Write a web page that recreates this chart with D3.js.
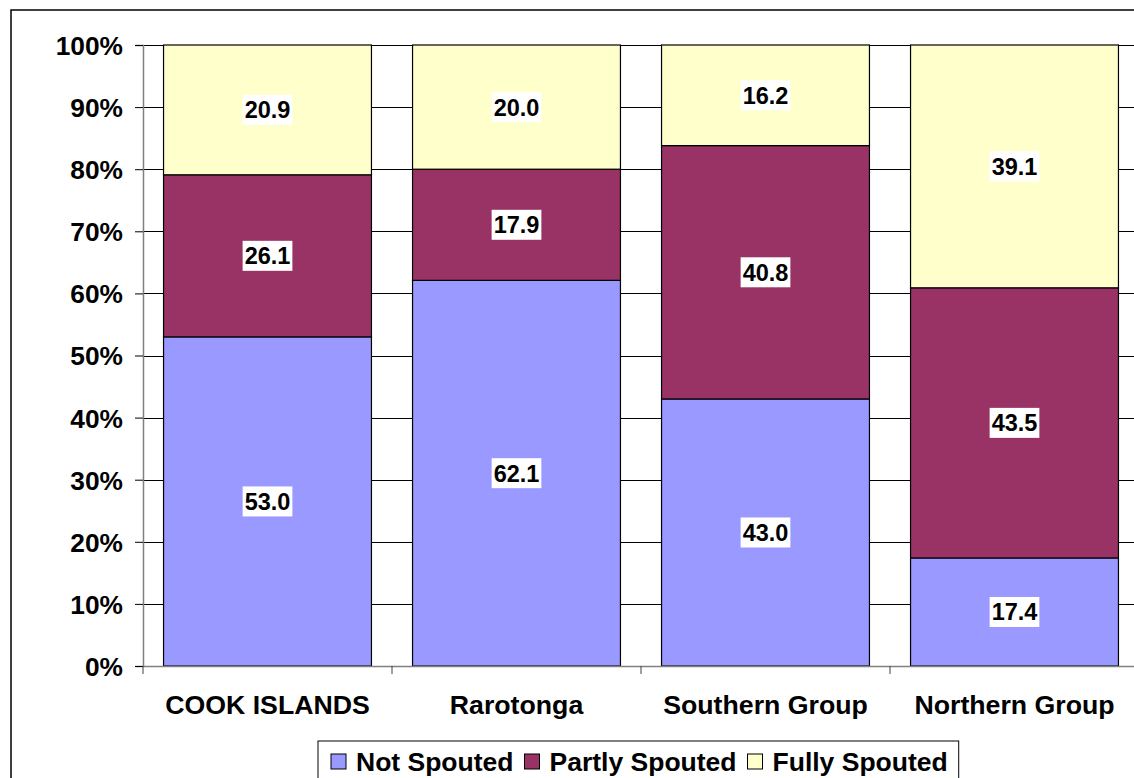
<!DOCTYPE html>
<html>
<head>
<meta charset="utf-8">
<script src="https://d3js.org/d3.v7.min.js"></script>
<style>
  body { margin: 0; background: #fff; }
  svg text { font-family: "Liberation Sans", Arial, sans-serif; font-weight: bold; fill: #000; }
</style>
</head>
<body>
<svg id="chart" width="1134" height="778"></svg>
<script>
  // chart data
  const categories = ["COOK ISLANDS", "Rarotonga", "Southern Group", "Northern Group"];
  const seriesNames = ["Not Spouted", "Partly Spouted", "Fully Spouted"];
  const notSpouted = [53.0, 62.1, 43.0, 17.4];
  const partlySpouted = [26.1, 17.9, 40.8, 43.5];
  const fullySpouted = [20.9, 20.0, 16.2, 39.1];
  const yTicks = [0, 10, 20, 30, 40, 50, 60, 70, 80, 90, 100];

  const colors = ["#9999ff", "#993366", "#ffffcc"];

  const rows = categories.map((c, i) => ({
    categ: c,
    "Not Spouted": notSpouted[i],
    "Partly Spouted": partlySpouted[i],
    "Fully Spouted": fullySpouted[i]
  }));

  const svg = d3.select("#chart");

  // outer chart border (runs off the right/bottom of the picture)
  svg.append("rect")
    .attr("x", 11).attr("y", 10)
    .attr("width", 1140).attr("height", 790)
    .attr("fill", "none")
    .attr("stroke", "#000")
    .attr("stroke-width", 1.5);

  const plotLeft = 143, plotTop = 45, plotBottom = 666;
  const step = 249;

  const x = d3.scaleBand()
    .domain(categories)
    .range([plotLeft, plotLeft + step * categories.length])
    .paddingInner(0.165)
    .paddingOuter(0.0825);

  const y = d3.scaleLinear().domain([0, 100]).range([plotBottom, plotTop]);

  // gridlines
  svg.append("g")
    .selectAll("line")
    .data(yTicks.filter(d => d > 0))
    .enter().append("line")
    .attr("x1", plotLeft).attr("x2", 1134)
    .attr("y1", d => Math.round(y(d)) + 0.5)
    .attr("y2", d => Math.round(y(d)) + 0.5)
    .attr("stroke", "#000");

  // bars
  const stack = d3.stack().keys(seriesNames);
  const layers = stack(rows);

  const layerG = svg.append("g")
    .selectAll("g")
    .data(layers)
    .enter().append("g")
    .attr("fill", (d, i) => colors[i]);

  layerG.selectAll("rect")
    .data(d => d)
    .enter().append("rect")
    .attr("x", d => x(d.data.categ))
    .attr("y", d => y(d[1]))
    .attr("width", x.bandwidth())
    .attr("height", d => y(d[0]) - y(d[1]))
    .attr("stroke", "#000")
    .attr("stroke-width", 1.2);

  // data labels with white boxes
  layers.forEach((layer) => {
    layer.forEach(d => {
      const v = d[1] - d[0];
      const cx = x(d.data.categ) + x.bandwidth() / 2;
      const cy = y((d[0] + d[1]) / 2);
      const t = svg.append("text")
        .attr("x", cx)
        .attr("y", cy)
        .attr("dy", "0.36em")
        .attr("text-anchor", "middle")
        .style("font-size", "23.5px")
        .text(v.toFixed(1));
      const w = t.node().getComputedTextLength();
      svg.insert("rect", function () { return t.node(); })
        .attr("x", cx - w / 2 - 2)
        .attr("y", cy - 15)
        .attr("width", w + 4)
        .attr("height", 30)
        .attr("fill", "#fff");
    });
  });

  // y axis
  const yAxis = svg.append("g")
    .attr("transform", `translate(${plotLeft},0)`)
    .call(d3.axisLeft(y).tickValues(yTicks).tickSize(8).tickFormat(d => d + "%"));
  yAxis.select(".domain").attr("stroke", "#808080").attr("stroke-width", 1.5);
  yAxis.selectAll(".tick line").attr("stroke", "#000");
  yAxis.selectAll(".tick text")
    .attr("x", -20)
    .attr("dy", "0.36em")
    .style("font-size", "26.3px")
    .style("font-family", "Liberation Sans, Arial, sans-serif");

  // x axis
  const xAxis = svg.append("g")
    .attr("transform", `translate(0,${plotBottom})`)
    .call(d3.axisBottom(x).tickSize(0).tickPadding(29));
  xAxis.select(".domain").attr("stroke", "#808080").attr("stroke-width", 1.5);
  xAxis.selectAll(".tick text")
    .attr("dy", "0.71em")
    .style("font-size", "26.7px")
    .style("font-family", "Liberation Sans, Arial, sans-serif");

  // category separator ticks
  xAxis.append("g")
    .selectAll("line")
    .data(d3.range(categories.length + 1))
    .enter().append("line")
    .attr("x1", i => plotLeft + i * step)
    .attr("x2", i => plotLeft + i * step)
    .attr("y1", 0).attr("y2", 8)
    .attr("stroke", "#404040");

  // legend
  const legend = svg.append("g");
  const legendBox = legend.append("rect")
    .attr("x", 318).attr("y", 741)
    .attr("height", 60)
    .attr("fill", "#fff")
    .attr("stroke", "#000");

  let lx = 331;
  seriesNames.forEach((name, i) => {
    legend.append("rect")
      .attr("x", lx).attr("y", 754)
      .attr("width", 15).attr("height", 15)
      .attr("fill", colors[i])
      .attr("stroke", "#000");
    const t = legend.append("text")
      .attr("x", lx + 25)
      .attr("y", 771)
      .style("font-size", "26.5px")
      .text(name);
    lx += 25 + t.node().getComputedTextLength() + 11;
  });
  legendBox.attr("width", lx - 318);
</script>
</body>
</html>
